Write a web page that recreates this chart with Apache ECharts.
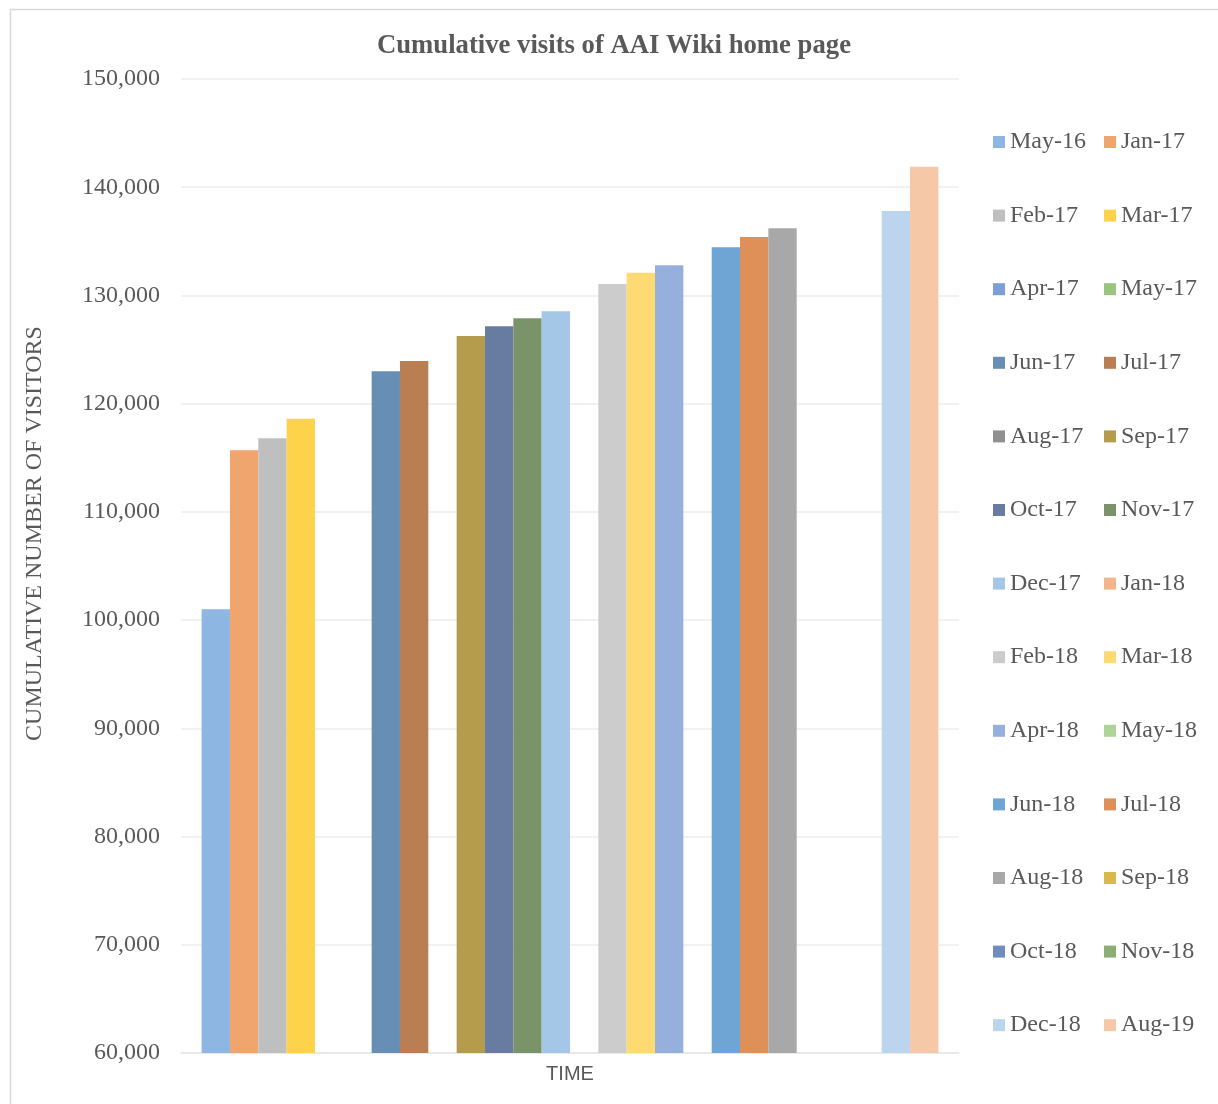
<!DOCTYPE html>
<html>
<head>
<meta charset="utf-8">
<script src="https://cdn.jsdelivr.net/npm/echarts@6/dist/echarts.min.js"></script>
<style>
  html, body { margin: 0; padding: 0; background: #ffffff; }
  #chart { width: 1218px; height: 1104px; }
</style>
</head>
<body>
<div id="chart"></div>
<script>
// Months shown as separate series (legend entries), in chart order
const months = [
  'May-16', 'Jan-17', 'Feb-17', 'Mar-17', 'Apr-17', 'May-17', 'Jun-17',
  'Jul-17', 'Aug-17', 'Sep-17', 'Oct-17', 'Nov-17', 'Dec-17', 'Jan-18',
  'Feb-18', 'Mar-18', 'Apr-18', 'May-18', 'Jun-18', 'Jul-18', 'Aug-18',
  'Sep-18', 'Oct-18', 'Nov-18', 'Dec-18', 'Aug-19'
];

// Cumulative visitors per month (null = no reading for that month)
const visits = [
  101000, 115700, 116800, 118600, null, null, 123000,
  123950, null, 126250, 127150, 127900, 128550, null,
  131050, 132100, 132800, null, 134450, 135400, 136200,
  null, null, null, 137800, 141900
];

// Single category on the horizontal axis
const categories = ['TIME'];

// Value axis range and step
const yMin = 60000;
const yMax = 150000;
const yStep = 10000;

// Bar colours, one per month
const palette = [
  '#8DB7E2', '#F0A46E', '#BFBFBF', '#FED24B', '#7E9ED8', '#9BC57E', '#678FB5',
  '#B97E52', '#909090', '#B59B4C', '#687CA2', '#7A9369', '#A4C6E7', '#F4B58C',
  '#CCCCCC', '#FDDB72', '#96B0DD', '#AED49A', '#6FA5D5', '#DF8F58', '#A8A8A8',
  '#DBB84A', '#6F8BBF', '#8AAE73', '#BBD5EE', '#F5C8A7'
];

const serif = '"Liberation Serif", "Times New Roman", serif';
const textGrey = '#595959';

const series = months.map((m, i) => ({
  name: m,
  type: 'bar',
  data: [visits[i] === null ? '-' : visits[i]],
  itemStyle: { color: palette[i] },
  barGap: '0%',
  barCategoryGap: '5.3%',
  emphasis: { disabled: true }
}));

const legendBase = {
  orient: 'vertical',
  top: 130,
  padding: 0,
  itemWidth: 12,
  itemHeight: 12,
  itemGap: 49.6,
  icon: 'rect',
  selectedMode: false,
  textStyle: { fontFamily: serif, fontSize: 24, color: textGrey, lineHeight: 24, padding: [0, 0, 0, 0] }
};

const chart = echarts.init(document.getElementById('chart'), null, { renderer: 'canvas' });
chart.setOption({
  animation: false,
  backgroundColor: '#ffffff',
  graphic: [{
    type: 'rect',
    shape: { x: 10.5, y: 9.5, width: 1212, height: 1104 },
    style: { fill: 'none', stroke: '#D9D9D9', lineWidth: 1.5 },
    silent: true,
    z: -10
  }],
  title: {
    text: 'Cumulative visits of AAI Wiki home page',
    left: 377,
    top: 33,
    padding: 0,
    textStyle: { fontFamily: serif, fontSize: 26.7, fontWeight: 'bold', color: textGrey }
  },
  legend: [
    Object.assign({}, legendBase, { left: 993, data: months.filter((_, i) => i % 2 === 0) }),
    Object.assign({}, legendBase, { left: 1104, data: months.filter((_, i) => i % 2 === 1) })
  ],
  grid: { left: 181, right: 259, top: 79, bottom: 51 },
  xAxis: {
    type: 'category',
    data: categories,
    name: 'TIME',
    nameLocation: 'middle',
    nameGap: 11,
    nameTextStyle: { fontFamily: '"Liberation Sans", Arial, sans-serif', fontSize: 20, color: textGrey },
    axisLine: { show: true, lineStyle: { color: '#E6E6E6', width: 1.5 } },
    axisTick: { show: false },
    axisLabel: { show: false }
  },
  yAxis: {
    type: 'value',
    min: yMin,
    max: yMax,
    interval: yStep,
    name: 'CUMULATIVE NUMBER OF VISITORS',
    nameLocation: 'middle',
    nameGap: 134,
    nameRotate: 90,
    nameTextStyle: { fontFamily: serif, fontSize: 24, color: textGrey, padding: [0, 0, 0, 65] },
    axisLine: { show: false },
    axisTick: { show: false },
    axisLabel: {
      fontFamily: serif,
      fontSize: 24,
      color: textGrey,
      margin: 21,
      formatter: v => v.toLocaleString('en-US')
    },
    splitLine: { lineStyle: { color: '#ECECEC', width: 1.5 } }
  },
  series: series
});
</script>
</body>
</html>
